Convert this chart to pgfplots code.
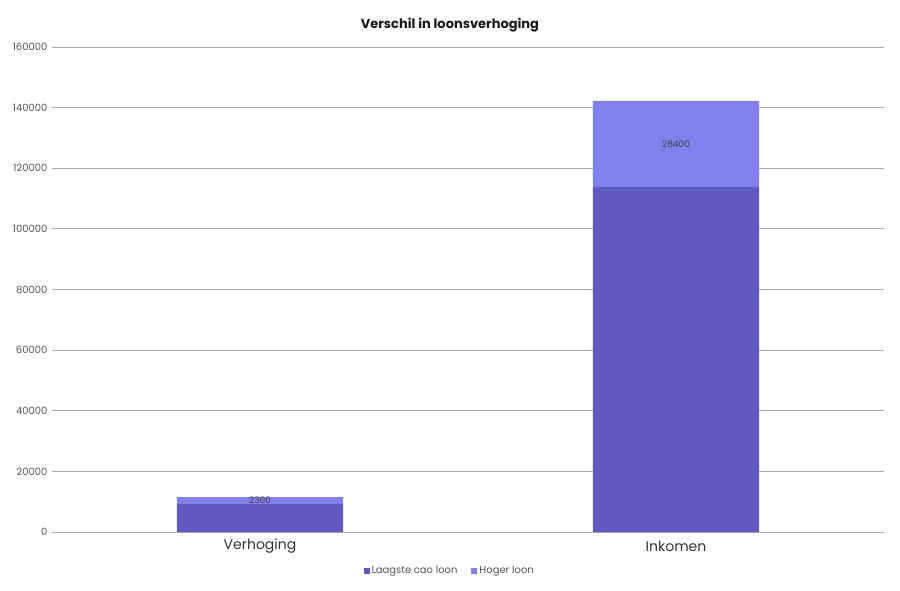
\documentclass[border=0pt]{standalone}
\usepackage{pgfplots}
\pgfplotsset{compat=1.18}
\usepackage{fontspec}
\setmainfont{Poppins}
\definecolor{laag}{RGB}{94,90,194}
\definecolor{hoog}{RGB}{128,128,238}
\definecolor{gridgray}{RGB}{170,170,170}
\definecolor{tickgray}{RGB}{85,85,85}
\begin{document}
\begin{tikzpicture}
\path[use as bounding box] (-52pt,-58pt) rectangle (848pt,532pt);
\begin{axis}[
  scale only axis, width=832pt, height=485pt,
  ybar stacked, bar width=0.4,
  xmin=-0.5, xmax=1.5, ymin=0, ymax=160000,
  xtick={0,1}, xticklabels={Verhoging,Inkomen},
  ytick={0,20000,40000,60000,80000,100000,120000,140000,160000},
  yticklabels={0,20000,40000,60000,80000,100000,120000,140000,160000},
  scaled y ticks=false,
  ymajorgrids, grid style={gridgray, line width=0.8pt},
  axis line style={draw=none},
  major tick length=0,
  yticklabel style={font=\fontsize{10}{12}\selectfont, text=tickgray, xshift=-1pt},
  xticklabel style={font=\fontsize{14}{16}\selectfont, text=black!80, anchor=center, yshift=-14pt},
  legend style={at={(0.478,0)}, anchor=center, yshift=-39pt, draw=none,
    font=\fontsize{10}{12}\selectfont, text=tickgray,
    /tikz/every even column/.append style={column sep=12pt}},
  legend columns=-1,
  legend image code/.code={\fill[#1] (0pt,-3pt) rectangle (6pt,3pt);},
]
\addplot[fill=laag, draw=none] coordinates {(0,9200) (1,113800)};
\addlegendentry{Laagste cao loon}
\addplot[fill=hoog, draw=none] coordinates {(0,2300) (1,28400)};
\addlegendentry{Hoger loon}
\end{axis}
\begin{axis}[
  scale only axis, width=832pt, height=485pt, hide axis,
  xmin=-0.5, xmax=1.5, ymin=0, ymax=160000,
]
\addplot[draw=none, mark=none, nodes near coords, point meta=explicit symbolic,
  nodes near coords style={anchor=center, font=\fontsize{9}{11}\selectfont, text=black!75}]
  coordinates {(0,10350)[2300] (1,128000)[28400]};
\end{axis}
\node[font=\bfseries\fontsize{13}{16}\selectfont, text=black!90] at (398pt,507pt) {Verschil in loonsverhoging};
\end{tikzpicture}
\end{document}
